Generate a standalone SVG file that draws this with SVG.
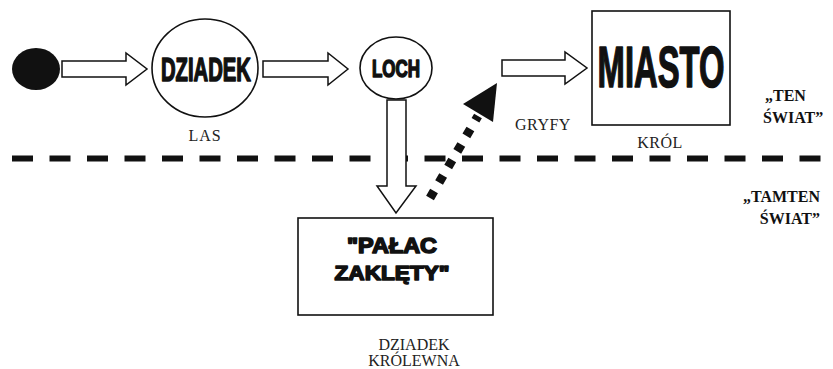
<svg xmlns="http://www.w3.org/2000/svg" width="833" height="369" viewBox="0 0 833 369">
<style>
.bg{fill:#fff}
.ol{fill:#fff;stroke:#111;stroke-width:1.6}
.arr{fill:#fff;stroke:#111;stroke-width:1.5;stroke-linejoin:miter}
.heavy{font-family:"Liberation Sans","DejaVu Sans",sans-serif;font-weight:bold;fill:#111;stroke:#111;stroke-width:1.6;stroke-linejoin:round}
.lbl{font-family:"Liberation Serif","DejaVu Serif",serif;fill:#222;font-size:16px}
.side{font-family:"Liberation Serif","DejaVu Serif",serif;font-weight:bold;fill:#111;font-size:16px}
</style>
<rect class="bg" width="833" height="369"/>
<g id="connectors">
  <line x1="12" y1="158.5" x2="833" y2="158.5" stroke="#111" stroke-width="6" stroke-dasharray="21 16.5"/>
  <polygon class="arr" points="62,61 126,61 126,53 147,69 126,85 126,77 62,77"/>
  <polygon class="arr" points="263,61 328,61 328,53 348,69 328,85 328,77 263,77"/>
  <polygon class="arr" points="502,60 565,60 565,52 587,68 565,84 565,76 502,76"/>
  <polygon class="arr" points="387,100 406,100 406,186 416,186 396,213 377,186 387,186"/>
  <line x1="430" y1="198" x2="478" y2="116" stroke="#111" stroke-width="9" stroke-dasharray="8 10"/>
  <polygon points="497,83 463,104 493,122" fill="#111"/>
</g>
<g id="start">
  <ellipse cx="36" cy="69" rx="24" ry="21" fill="#111"/>
</g>
<g id="dziadek">
  <ellipse class="ol" cx="205" cy="68" rx="53" ry="49"/>
  <text class="heavy" x="206" y="81" font-size="33" text-anchor="middle" textLength="90" lengthAdjust="spacingAndGlyphs">DZIADEK</text>
  <text class="lbl" x="205" y="141" text-anchor="middle" letter-spacing="1">LAS</text>
</g>
<g id="loch">
  <ellipse class="ol" cx="396" cy="68" rx="36" ry="31"/>
  <text class="heavy" x="396" y="77" font-size="24" text-anchor="middle" textLength="48" lengthAdjust="spacingAndGlyphs">LOCH</text>
</g>
<g id="miasto">
  <rect class="ol" x="592" y="11" width="138" height="114"/>
  <text class="heavy" transform="translate(661,87) scale(0.565,1)" x="0" y="0" font-size="58" text-anchor="middle" stroke-width="3">MIASTO</text>
  <text class="lbl" x="660" y="148" text-anchor="middle" letter-spacing="0.5">KRÓL</text>
</g>
<g id="gryfy">
  <text class="lbl" x="543" y="130" font-size="17" text-anchor="middle" letter-spacing="0.5">GRYFY</text>
</g>
<g id="palac">
  <rect class="ol" x="298" y="218" width="195" height="97"/>
  <text class="heavy" x="392" y="253" font-size="22" text-anchor="middle" textLength="90" lengthAdjust="spacingAndGlyphs">"PAŁAC</text>
  <text class="heavy" x="392" y="280" font-size="21" text-anchor="middle" textLength="115" lengthAdjust="spacingAndGlyphs">ZAKLĘTY"</text>
  <text class="lbl" x="414" y="350" font-size="15" text-anchor="middle">DZIADEK</text>
  <text class="lbl" x="414" y="366" font-size="15" text-anchor="middle">KRÓLEWNA</text>
</g>
<g id="ten-swiat">
  <text class="side" x="765" y="101">„TEN</text>
  <text class="side" x="763" y="123">ŚWIAT”</text>
</g>
<g id="tamten-swiat">
  <text class="side" x="820" y="202" text-anchor="end">„TAMTEN</text>
  <text class="side" x="820" y="224" text-anchor="end">ŚWIAT”</text>
</g>
</svg>
